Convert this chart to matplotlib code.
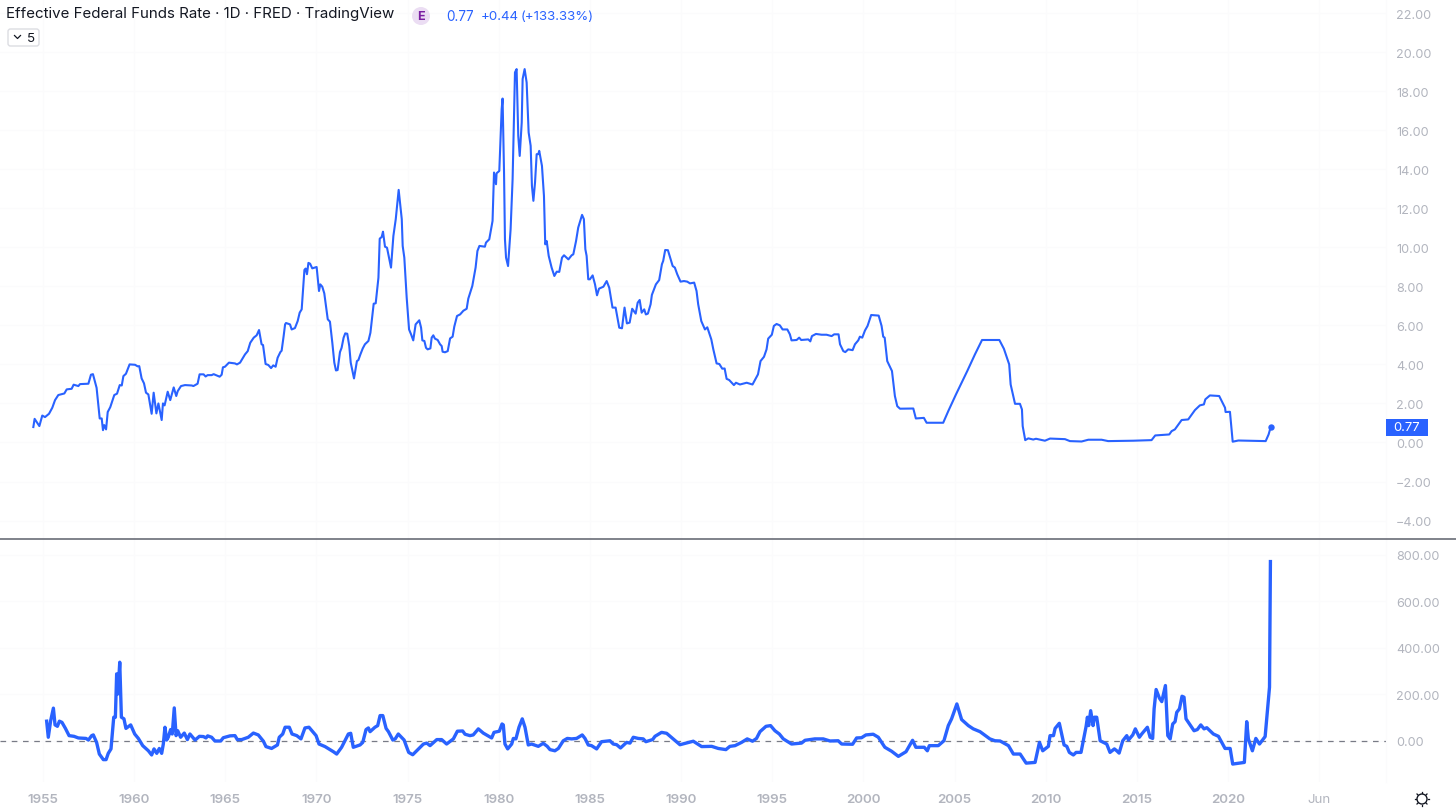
"""Effective Federal Funds Rate chart with a 5-period rate of change pane below."""
import matplotlib
matplotlib.use("Agg")
import matplotlib.pyplot as plt
from matplotlib.patches import Circle, FancyBboxPatch, Rectangle

BLUE = "#2962FF"
GREY = "#B2B5BE"
GRID = "#FBFBFC"
DARK = "#131722"

rate_years = [
    1954.47, 1954.54, 1954.80, 1954.96, 1955.11, 1955.33, 1955.51, 1955.66, 1955.84, 1956.17,
    1956.30, 1956.57, 1956.68, 1956.94, 1957.03, 1957.49, 1957.63, 1957.74, 1957.94, 1958.11,
    1958.22, 1958.29, 1958.36, 1958.46, 1958.55, 1958.69, 1958.91, 1959.06, 1959.21, 1959.32,
    1959.41, 1959.55, 1959.75, 1960.05, 1960.19, 1960.28, 1960.41, 1960.54, 1960.65, 1960.78,
    1960.96, 1961.07, 1961.22, 1961.33, 1961.51, 1961.58, 1961.67, 1961.84, 1961.98, 1962.17,
    1962.31, 1962.39, 1962.57, 1962.79, 1963.16, 1963.25, 1963.48, 1963.59, 1963.81, 1963.92,
    1964.03, 1964.25, 1964.36, 1964.69, 1964.80, 1964.87, 1964.98, 1965.20, 1965.53, 1965.64,
    1965.81, 1966.08, 1966.23, 1966.37, 1966.56, 1966.63, 1966.72, 1966.85, 1966.99, 1967.07,
    1967.21, 1967.36, 1967.51, 1967.63, 1967.76, 1967.87, 1968.02, 1968.09, 1968.20,
    1968.28, 1968.33, 1968.55, 1968.64, 1968.82, 1968.97, 1969.08, 1969.19, 1969.34, 1969.41,
    1969.48, 1969.56, 1969.65, 1969.77, 1970.01, 1970.14, 1970.21, 1970.32, 1970.43, 1970.62,
    1970.74, 1970.87, 1970.98, 1971.07, 1971.16, 1971.29, 1971.38, 1971.49, 1971.58, 1971.69,
    1971.80, 1971.88, 1972.06, 1972.22, 1972.30, 1972.41, 1972.54, 1972.66, 1972.85, 1972.96,
    1973.14, 1973.25, 1973.40, 1973.47, 1973.58, 1973.65, 1973.76, 1973.87, 1974.09, 1974.22,
    1974.35, 1974.51, 1974.68, 1974.73, 1974.82, 1974.95, 1975.08, 1975.19, 1975.31, 1975.44,
    1975.55, 1975.64, 1975.74, 1975.81, 1975.92, 1976.01, 1976.10, 1976.25, 1976.32, 1976.41,
    1976.50, 1976.65, 1976.78, 1976.87, 1976.92, 1977.05, 1977.20, 1977.33, 1977.47, 1977.56,
    1977.71, 1977.88, 1978.06, 1978.24, 1978.33, 1978.55, 1978.73, 1978.83, 1978.94,
    1979.24, 1979.30, 1979.48, 1979.66, 1979.74, 1979.85, 1979.88, 1980.03, 1980.16, 1980.21,
    1980.29, 1980.34, 1980.40, 1980.51, 1980.65, 1980.76, 1980.89, 1980.98, 1981.07, 1981.15,
    1981.26, 1981.31, 1981.42, 1981.53, 1981.64, 1981.75, 1981.82, 1981.90, 1981.99, 1982.08,
    1982.17, 1982.22, 1982.37, 1982.48, 1982.55, 1982.63, 1982.74, 1982.90, 1983.05, 1983.18,
    1983.32, 1983.47, 1983.58, 1983.82, 1984.00, 1984.09, 1984.24, 1984.36, 1984.57, 1984.67,
    1984.75, 1984.82, 1984.91, 1985.00, 1985.15, 1985.28, 1985.39, 1985.50, 1985.74, 1985.92,
    1986.06, 1986.24, 1986.41, 1986.61, 1986.76, 1986.90, 1987.03, 1987.18, 1987.32, 1987.51,
    1987.62, 1987.73, 1987.84, 1987.98, 1988.07, 1988.18, 1988.33, 1988.40, 1988.62, 1988.80,
    1988.95, 1989.02, 1989.13, 1989.28, 1989.43, 1989.54, 1989.66, 1989.79, 1989.97, 1990.16,
    1990.34, 1990.49, 1990.72, 1990.85, 1990.94, 1991.11, 1991.31, 1991.44, 1991.66, 1991.77,
    1991.95, 1992.10, 1992.26, 1992.39, 1992.50, 1992.64, 1992.90, 1993.01, 1993.23, 1993.60,
    1993.92, 1994.22, 1994.36, 1994.55, 1994.69, 1994.78, 1994.98, 1995.09, 1995.24, 1995.42,
    1995.57, 1995.83, 1995.97, 1996.06, 1996.34, 1996.48, 1996.59, 1996.98, 1997.09, 1997.18,
    1997.40, 1997.71, 1997.98, 1998.26, 1998.40, 1998.64, 1998.72, 1998.90, 1999.01, 1999.17,
    1999.41, 1999.54, 1999.72, 1999.81, 1999.94, 2000.09, 2000.23, 2000.43, 2000.84, 2001.00,
    2001.09, 2001.17, 2001.31, 2001.57, 2001.73, 2001.86, 2002.01, 2002.74, 2002.88, 2003.32,
    2003.47, 2004.38, 2004.66, 2005.08, 2005.44, 2005.70, 2006.12, 2006.30, 2006.51, 2007.46,
    2007.71, 2008.00, 2008.08, 2008.32, 2008.59, 2008.70, 2008.74, 2008.88, 2009.05, 2009.32,
    2009.47, 2009.96, 2010.24, 2011.06, 2011.33, 2011.97, 2012.34, 2013.07, 2013.43, 2014.81,
    2015.81, 2016.01, 2016.78, 2016.91, 2017.09, 2017.46, 2017.82, 2018.19, 2018.46, 2018.68,
    2018.76, 2019.01, 2019.52, 2019.84, 2019.87, 2020.11, 2020.26, 2020.57, 2022.07, 2022.23,
    2022.34,
]
rate_values = [
    0.79, 1.21, 0.84, 1.38, 1.30, 1.47, 1.78, 2.17, 2.43, 2.51,
    2.72, 2.75, 2.96, 2.89, 2.99, 3.01, 3.47, 3.50, 2.80, 1.23,
    1.23, 0.63, 0.89, 0.67, 1.56, 1.81, 2.43, 2.50, 2.94, 2.92,
    3.40, 3.52, 4.00, 3.98, 3.90, 3.91, 3.28, 3.03, 2.55, 2.46,
    1.47, 2.55, 1.49, 2.00, 1.15, 2.00, 1.90, 2.60, 2.17, 2.82,
    2.38, 2.63, 2.89, 2.94, 2.92, 2.89, 3.01, 3.49, 3.49, 3.38,
    3.45, 3.45, 3.50, 3.37, 3.47, 3.85, 3.88, 4.09, 4.05, 4.00,
    4.09, 4.51, 4.68, 5.11, 5.37, 5.42, 5.49, 5.76, 5.03, 4.99,
    4.02, 3.97, 3.81, 3.95, 3.88, 4.34, 4.63, 4.70, 5.45,
    6.05, 6.12, 6.05, 5.79, 5.86, 6.22, 6.65, 6.82, 8.84, 8.91,
    8.62, 9.20, 9.16, 8.92, 8.99, 7.76, 8.10, 7.98, 7.64, 6.31,
    6.19, 5.11, 4.09, 3.69, 3.71, 4.63, 4.85, 5.37, 5.59, 5.57,
    4.94, 4.09, 3.28, 4.17, 4.22, 4.51, 4.82, 5.03, 5.20, 5.62,
    7.11, 7.13, 8.44, 10.44, 10.53, 10.80, 10.03, 9.98, 8.96, 10.58,
    11.44, 12.94, 11.44, 10.07, 9.47, 7.42, 5.79, 5.54, 5.23, 6.05,
    6.17, 6.26, 5.88, 5.23, 5.20, 4.85, 4.77, 4.82, 5.37, 5.49,
    5.32, 5.25, 5.03, 4.94, 4.65, 4.62, 4.68, 5.33, 5.42, 5.93,
    6.48, 6.56, 6.75, 6.85, 7.37, 8.02, 8.96, 9.81, 10.07,
    10.03, 10.24, 10.41, 11.35, 13.83, 13.23, 13.79, 13.91, 17.08, 17.62,
    13.83, 10.41, 9.47, 9.04, 10.92, 13.49, 18.96, 19.13, 15.71, 14.68,
    16.39, 18.62, 19.13, 18.44, 15.88, 15.20, 13.15, 12.38, 13.32, 14.77,
    14.77, 14.94, 14.17, 12.63, 10.15, 10.32, 9.56, 8.96, 8.53, 8.75,
    8.74, 9.47, 9.59, 9.38, 9.59, 9.64, 10.32, 11.01, 11.66, 11.44,
    9.90, 9.56, 8.36, 8.36, 8.56, 8.10, 7.54, 7.88, 7.98, 8.27,
    7.93, 6.91, 6.91, 5.88, 5.85, 6.91, 6.10, 6.14, 6.85, 6.60,
    7.16, 7.30, 6.65, 6.82, 6.56, 6.60, 7.08, 7.56, 8.10, 8.32,
    9.13, 9.30, 9.86, 9.85, 9.38, 9.04, 8.96, 8.62, 8.24, 8.27,
    8.24, 8.15, 8.19, 7.76, 7.08, 6.22, 5.79, 5.90, 5.28, 4.77,
    4.05, 4.02, 3.78, 3.79, 3.26, 3.20, 2.94, 3.06, 2.97, 3.06,
    2.97, 3.49, 4.17, 4.39, 4.77, 5.32, 5.52, 5.97, 6.07, 6.00,
    5.79, 5.79, 5.54, 5.23, 5.25, 5.37, 5.25, 5.28, 5.18, 5.45,
    5.56, 5.52, 5.52, 5.45, 5.54, 5.54, 5.03, 4.68, 4.63, 4.77,
    4.73, 5.03, 5.23, 5.42, 5.37, 5.74, 5.97, 6.53, 6.50, 5.97,
    5.42, 5.37, 4.17, 3.66, 2.38, 1.86, 1.73, 1.74, 1.23, 1.26,
    1.01, 1.01, 1.61, 2.46, 3.15, 3.66, 4.51, 4.85, 5.25, 5.25,
    4.80, 4.00, 2.97, 1.98, 1.98, 1.69, 0.84, 0.12, 0.21, 0.15,
    0.19, 0.09, 0.20, 0.17, 0.07, 0.05, 0.14, 0.14, 0.07, 0.09,
    0.12, 0.36, 0.41, 0.58, 0.67, 1.15, 1.18, 1.66, 1.90, 1.95,
    2.21, 2.41, 2.38, 1.78, 1.56, 1.57, 0.04, 0.10, 0.07, 0.41,
    0.77,
]

roc_years = [
    1955.20, 1955.29, 1955.42, 1955.57, 1955.66, 1955.79, 1955.90, 1956.04, 1956.23, 1956.43,
    1956.70, 1956.94, 1957.36, 1957.49, 1957.67, 1957.76, 1957.94, 1958.09, 1958.31, 1958.46,
    1958.58, 1958.73, 1958.88, 1958.97, 1959.04, 1959.11, 1959.21, 1959.30, 1959.44, 1959.55,
    1959.81, 1960.03, 1960.23, 1960.47, 1960.78, 1960.96, 1961.09, 1961.24, 1961.38, 1961.51,
    1961.60, 1961.69, 1961.78, 1961.87, 1962.00, 1962.09, 1962.20, 1962.30, 1962.39, 1962.55,
    1962.75, 1962.92, 1963.06, 1963.34, 1963.58, 1963.80, 1963.94, 1964.03, 1964.25, 1964.43,
    1964.75, 1964.89, 1965.26, 1965.53, 1965.66, 1965.90, 1966.26, 1966.54, 1966.81, 1967.09,
    1967.23, 1967.54, 1967.86, 1967.96, 1968.15, 1968.28, 1968.51, 1968.66, 1968.92, 1969.15,
    1969.37, 1969.59, 1969.98, 1970.14, 1970.47, 1970.93, 1971.11, 1971.38, 1971.75, 1971.88,
    1972.02, 1972.39, 1972.54, 1972.72, 1972.85, 1972.94, 1973.21, 1973.36, 1973.49, 1973.64,
    1973.82, 1973.95, 1974.19, 1974.32, 1974.49, 1974.81, 1974.92, 1975.06, 1975.28, 1975.50,
    1975.87, 1976.05, 1976.23, 1976.60, 1976.87, 1977.14, 1977.51, 1977.73, 1978.02, 1978.15,
    1978.42, 1978.60, 1978.88, 1979.15, 1979.61, 1979.74, 1980.03, 1980.18, 1980.25, 1980.34,
    1980.49, 1980.71, 1980.80, 1980.94, 1981.11, 1981.29, 1981.44, 1981.62, 1981.80, 1982.17,
    1982.44, 1982.66, 1982.81, 1983.08, 1983.27, 1983.54, 1983.76, 1984.00, 1984.27, 1984.58,
    1984.73, 1984.91, 1985.09, 1985.37, 1985.64, 1986.10, 1986.28, 1986.47, 1986.68, 1987.01,
    1987.20, 1987.38, 1987.65, 1987.93, 1988.07, 1988.44, 1988.57, 1988.93, 1989.21, 1989.94,
    1990.67, 1991.13, 1991.68, 1992.04, 1992.46, 1992.68, 1992.96, 1993.32, 1993.63, 1993.92,
    1994.14, 1994.33, 1994.66, 1994.91, 1995.15, 1995.39, 1995.61, 1996.06, 1996.61, 1996.80,
    1997.34, 1997.80, 1998.17, 1998.62, 1998.81, 1999.41, 1999.63, 1999.90, 2000.14, 2000.54,
    2000.82, 2001.18, 2001.55, 2001.92, 2002.34, 2002.70, 2002.88, 2003.34, 2003.51, 2003.62,
    2004.11, 2004.42, 2004.66, 2004.84, 2005.13, 2005.39, 2005.76, 2006.03, 2006.40, 2006.94,
    2007.22, 2007.50, 2007.96, 2008.23, 2008.60, 2008.93, 2009.42, 2009.66, 2009.84, 2010.15,
    2010.24, 2010.43, 2010.52, 2010.75, 2011.01, 2011.16, 2011.30, 2011.52, 2011.67, 2011.94,
    2012.22, 2012.29, 2012.36, 2012.47, 2012.60, 2012.67, 2012.80, 2012.99, 2013.35, 2013.53,
    2013.77, 2013.90, 2014.03, 2014.23, 2014.45, 2014.54, 2014.78, 2014.92, 2015.14, 2015.27,
    2015.58, 2015.73, 2015.87, 2015.95, 2016.06, 2016.24, 2016.37, 2016.57, 2016.70, 2016.83,
    2016.97, 2017.10, 2017.19, 2017.34, 2017.48, 2017.59, 2017.70, 2017.89, 2018.14, 2018.32,
    2018.51, 2018.69, 2018.84, 2019.20, 2019.48, 2019.84, 2020.12, 2020.26, 2020.90, 2021.03,
    2021.12, 2021.34, 2021.53, 2021.73, 2022.04, 2022.28, 2022.33,
]
roc_values = [
    85, 16, 87, 141, 69, 63, 85, 80, 54, 23,
    20, 13, 11, 4, 23, 26, -6, -56, -80, -80,
    -53, -34, 102, 102, 288, 202, 338, 102, 95, 54,
    69, 30, 11, -20, -42, -60, -34, -53, -32, -53,
    -13, 59, 4, 16, 49, 30, 142, 23, 44, 16,
    34, 6, 30, 4, 20, 19, 13, 22, 16, 0,
    0, 14, 22, 23, 6, 6, 16, 34, 26, -1,
    -24, -32, -17, 16, 30, 59, 59, 30, 23, 9,
    56, 59, 23, -13, -24, -46, -56, -27, 30, 33,
    -27, -17, -6, 49, 56, 40, 59, 66, 109, 109,
    54, 40, 4, 9, 30, 4, -20, -49, -59, -42,
    -13, -9, -20, 6, 6, -13, 9, 42, 43, 29,
    23, 26, 52, 34, 13, 37, 42, 73, 69, -13,
    -34, -13, 11, 9, 59, 95, 59, -17, -13, -23,
    -10, -23, -37, -42, -32, 1, 11, 9, 11, 26,
    11, -17, -20, -34, -3, 1, -13, -16, -30, -6,
    -9, 16, 11, 9, -3, 6, 20, 37, 33, -16,
    -1, -24, -23, -32, -37, -23, -20, -6, 9, -1,
    11, 40, 63, 66, 44, 30, 9, -13, -9, 3,
    9, 9, 0, 1, -13, -14, 13, 14, 26, 29,
    16, -27, -44, -66, -46, 3, -27, -27, -42, -20,
    -20, 1, 66, 95, 159, 92, 66, 52, 40, 9,
    1, 0, -20, -56, -56, -95, -92, -6, -42, -23,
    23, 23, 54, 76, -17, -23, -49, -60, -49, -49,
    63, 102, 66, 130, 66, 102, 102, 1, -13, -49,
    -34, -42, -52, 1, 23, 4, 26, 52, 16, 30,
    59, 16, 11, 138, 221, 184, 169, 238, 23, 9,
    73, 83, 123, 138, 192, 188, 95, 73, 44, 49,
    69, 52, 57, 30, 20, -32, -32, -99, -92, 83,
    9, -42, 11, -13, 19, 231, 770,
]

year_ticks = [1955, 1960, 1965, 1970, 1975, 1980, 1985, 1990, 1995, 2000, 2005, 2010, 2015, 2020, 2025]
year_labels = ["1955", "1960", "1965", "1970", "1975", "1980", "1985", "1990", "1995", "2000",
               "2005", "2010", "2015", "2020", "Jun"]
rate_ticks = [-4, -2, 0, 2, 4, 6, 8, 10, 12, 14, 16, 18, 20, 22]
roc_ticks = [0, 200, 400, 600, 800]

W, H = 1456, 812
PANE_RIGHT = 1385.5
PANE_SPLIT = 539.5
PANE_BOTTOM = 783

plt.rcParams["font.family"] = ["Inter", "DejaVu Sans"]

fig = plt.figure(figsize=(W / 100, H / 100), dpi=100, facecolor="white")
ax_rate = fig.add_axes([0, 1 - PANE_SPLIT / H, PANE_RIGHT / W, PANE_SPLIT / H])
ax_roc = fig.add_axes([0, 1 - PANE_BOTTOM / H, PANE_RIGHT / W, (PANE_BOTTOM - PANE_SPLIT) / H])

xlim = (1955 - 43 / 18.23, 1955 + (PANE_RIGHT - 43) / 18.23)
for ax in (ax_rate, ax_roc):
    ax.set_xlim(xlim)
    ax.set_xticks(year_ticks)
    ax.grid(True, color=GRID, lw=0.8)
    ax.set_axisbelow(True)
    ax.yaxis.tick_right()
    for s in ("top", "bottom", "left"):
        ax.spines[s].set_visible(False)
    ax.spines["right"].set_color(GRID)
    ax.tick_params(axis="y", length=0, pad=7.5, labelcolor=GREY, labelsize=9.1)

ax_rate.set_ylim(-4.92, 22.72)
ax_rate.set_yticks(rate_ticks)
ax_rate.set_yticklabels([f"{v:.2f}".replace("-", "\u2212") for v in rate_ticks])
ax_rate.tick_params(axis="x", length=0, labelbottom=False)
ax_rate.plot(rate_years, rate_values, color=BLUE, lw=1.5, solid_joinstyle="round")
ax_rate.plot(rate_years[-1], rate_values[-1], "o", color=BLUE, ms=4.6, mew=0)

ax_roc.set_ylim(-176, 869)
ax_roc.set_yticks(roc_ticks)
ax_roc.set_yticklabels([f"{v:.2f}" for v in roc_ticks])
ax_roc.set_xticklabels(year_labels)
ax_roc.tick_params(axis="x", length=0, pad=8, labelcolor=GREY, labelsize=9.6)
for lab in ax_roc.get_xticklabels()[:-1]:
    lab.set_fontweight("semibold")
ax_roc.axhline(0, color="#787B86", lw=0.9, dashes=(4.5, 4.5))
ax_roc.plot(roc_years, roc_values, color=BLUE, lw=2.4, solid_joinstyle="round")

# header, badges and icons sit on an overlay in pixel coordinates
ov = fig.add_axes([0, 0, 1, 1], facecolor="none")
ov.set_xlim(0, W)
ov.set_ylim(H, 0)
ov.axis("off")

ov.plot([0, W], [PANE_SPLIT, PANE_SPLIT], color="#5D606B", lw=1.1)

ov.text(6, 14, "Effective Federal Funds Rate \u00b7 1D \u00b7 FRED \u00b7 TradingView",
        fontsize=10.85, color=DARK, va="center", ha="left")
ov.add_patch(Circle((421, 17), 9, color="#EBDDF3", lw=0))
ov.text(421, 17, "E", fontsize=9, color="#7B1FA2", weight="bold", ha="center", va="center")
ov.text(446, 17, "0.77", fontsize=9.8, color=BLUE, va="center", ha="left")
ov.text(481, 17, "+0.44", fontsize=9.6, color=BLUE, va="center", ha="left")
ov.text(594, 17, "(+133.33%)", fontsize=9.5, color=BLUE, va="center", ha="right")

ov.add_patch(FancyBboxPatch((8, 30), 31, 17, boxstyle="round,pad=0,rounding_size=2.5",
                            fc="white", ec="#DCDDE2", lw=1))
ov.plot([14.5, 17.5, 20.5], [36.5, 39.5, 36.5], color=DARK, lw=0.9)
ov.text(31, 38.5, "5", fontsize=9.6, color=DARK, ha="center", va="center")

ov.add_patch(Rectangle((1386, 420), 42, 17, color=BLUE, lw=0))
ov.text(1407, 428.5, "0.77", fontsize=9.4, color="white", ha="center", va="center")

# sun icon, bottom right
ov.add_patch(Circle((1422, 800), 5, fc="white", ec=DARK, lw=1))
for dx, dy in [(0, -7), (0, 7), (-7, 0), (7, 0), (-5, -5), (5, -5), (-5, 5), (5, 5)]:
    ov.plot([1422 + dx * 0.85, 1422 + dx], [800 + dy * 0.85, 800 + dy], color=DARK, lw=0.9)

fig.savefig("out.png", dpi=100)
